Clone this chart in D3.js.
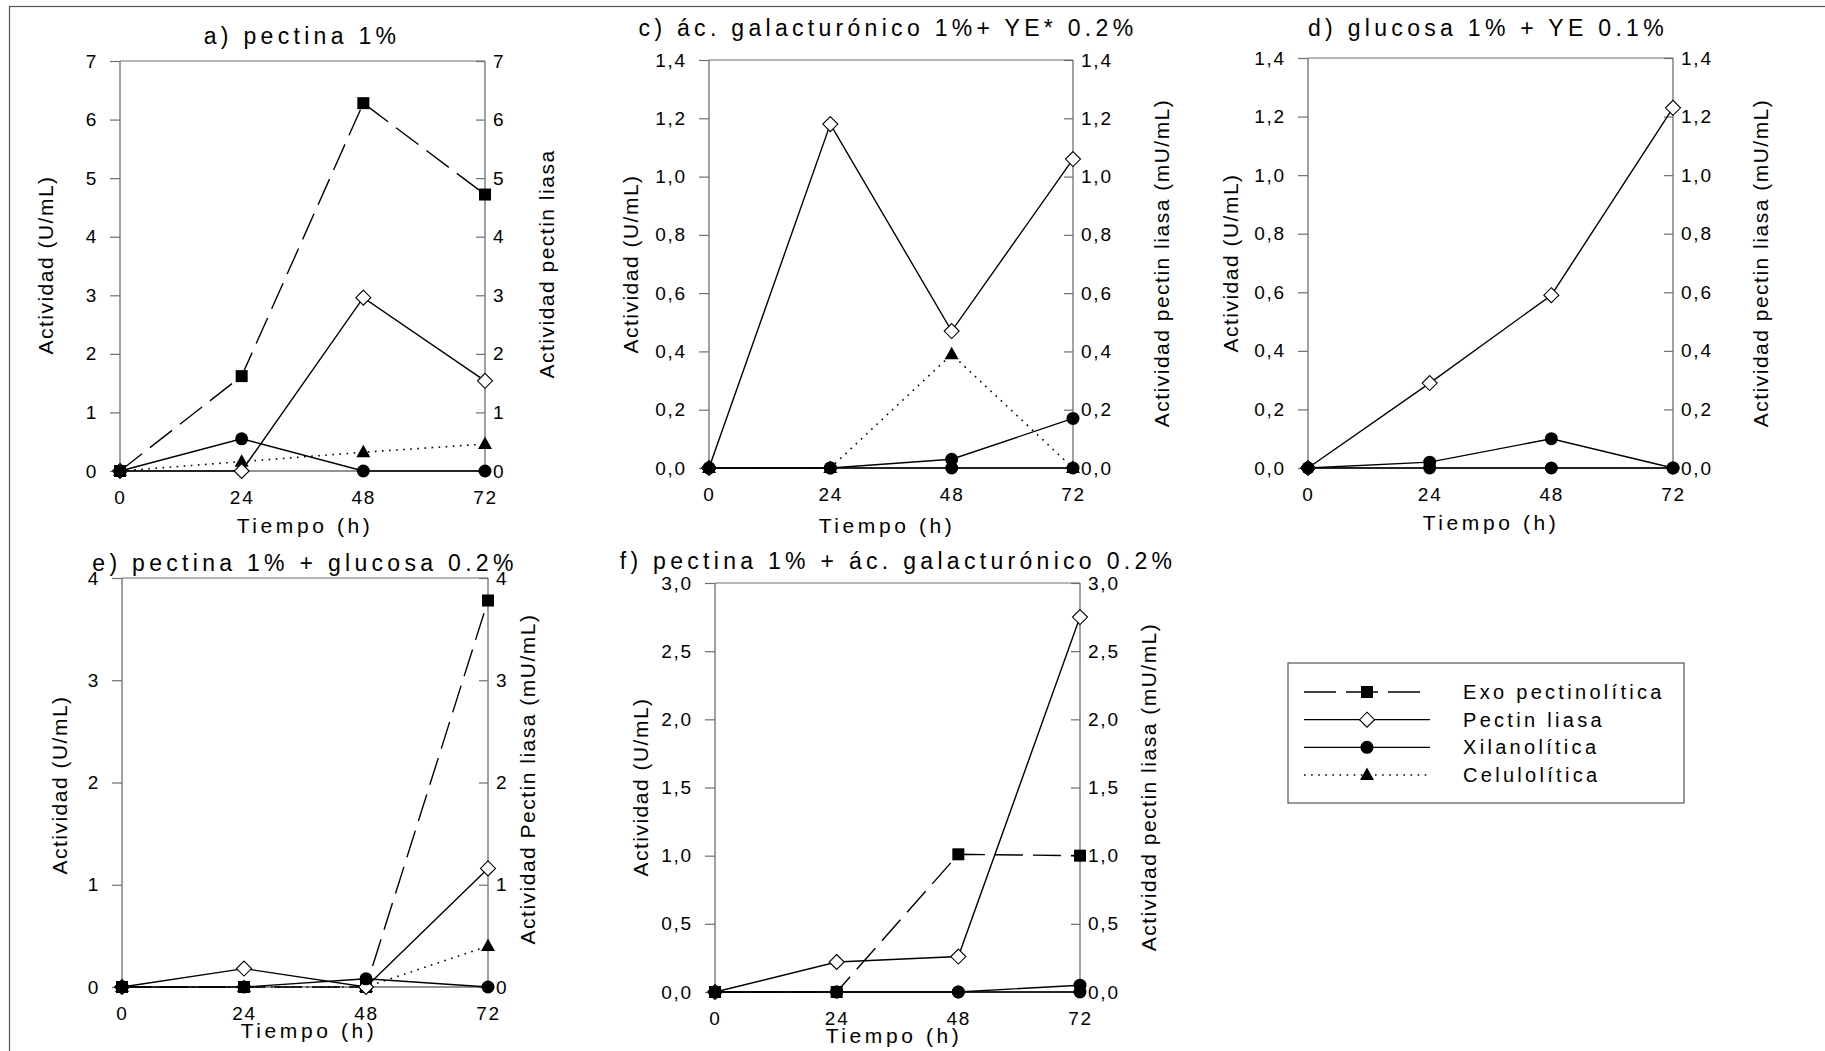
<!DOCTYPE html>
<html>
<head>
<meta charset="utf-8">
<script src="https://cdn.jsdelivr.net/npm/d3@7"></script>
<style>
  html, body { margin: 0; padding: 0; background: #fff; }
  svg { display: block; font-family: "Liberation Sans", Arial, sans-serif; }
</style>
</head>
<body>
<svg id="chart" width="1825" height="1051"></svg>
<script>
// Sampling times (h)
const hours = [0, 24, 48, 72];
const seriesNames = ["Exo pectinolítica", "Pectin liasa", "Xilanolítica", "Celulolítica"];

// a) pectina 1%
const aExo   = [0, 1.62, 6.28, 4.72];
const aLiasa = [0, 0, 2.96, 1.54];
const aXilan = [0, 0.55, 0, 0];
const aCelul = [0, 0.16, 0.32, 0.46];

// c) ác. galacturónico 1% + YE* 0.2%
const cLiasa = [0, 1.18, 0.47, 1.06];
const cXilan = [0, 0, 0.03, 0.17];
const cCelul = [0, 0, 0.39, 0];
const cCero  = [0, 0, 0, 0];

// d) glucosa 1% + YE 0.1%
const dLiasa = [0, 0.29, 0.59, 1.23];
const dXilan = [0, 0.02, 0.10, 0];
const dCero  = [0, 0, 0, 0];

// e) pectina 1% + glucosa 0.2%
const eExo   = [0, 0, 0, 3.78];
const eLiasa = [0, 0.18, 0, 1.16];
const eXilan = [0, 0, 0.08, 0];
const eCelul = [0, 0, 0, 0.40];

// f) pectina 1% + ác. galacturónico 0.2%
const fExo   = [0, 0, 1.01, 1.0];
const fLiasa = [0, 0.22, 0.26, 2.75];
const fXilan = [0, 0, 0, 0.05];
const fCero  = [0, 0, 0, 0];

// Y tick values per panel
const ticksA = [0, 1, 2, 3, 4, 5, 6, 7];
const ticksC = [0, 0.2, 0.4, 0.6, 0.8, 1.0, 1.2, 1.4];
const ticksE = [0, 1, 2, 3, 4];
const ticksF = [0, 0.5, 1.0, 1.5, 2.0, 2.5, 3.0];

const STYLE = {
  exo:   { marker: "square",   dash: "28,10" },
  liasa: { marker: "diamond",  dash: null },
  xilan: { marker: "circle",   dash: null },
  celul: { marker: "triangle", dash: "1.6,5.5" },
  cero:  { marker: "circle",   dash: null }
};

const fmtInt = d3.format("d");
const fmtComma = d => d3.format(".1f")(d).replace(".", ",");

const panels = [
  { title: "a) pectina 1%", x0: 120, x1: 485, yTop: 61, yBot: 471, ticks: ticksA, fmt: fmtInt,
    titleXY: [302, 44], leftTitle: "Actividad (U/mL)", leftXY: [45, 265],
    rightTitle: "Actividad pectin liasa", rightXY: [546, 264], xTitleXY: [305, 533],
    series: [["celul", aCelul], ["exo", aExo], ["liasa", aLiasa], ["xilan", aXilan]] },
  { title: "c) ác. galacturónico 1%+ YE* 0.2%", x0: 709, x1: 1073, yTop: 60, yBot: 468, ticks: ticksC, fmt: fmtComma,
    titleXY: [888, 36], leftTitle: "Actividad (U/mL)", leftXY: [630, 264],
    rightTitle: "Actividad pectin liasa (mU/mL)", rightXY: [1161, 263], xTitleXY: [887, 533],
    series: [["celul", cCelul], ["cero", cCero], ["liasa", cLiasa], ["xilan", cXilan]] },
  { title: "d) glucosa 1% + YE 0.1%", x0: 1308, x1: 1673, yTop: 58, yBot: 468, ticks: ticksC, fmt: fmtComma,
    titleXY: [1488, 36], leftTitle: "Actividad (U/mL)", leftXY: [1230, 263],
    rightTitle: "Actividad pectin liasa (mU/mL)", rightXY: [1760, 263], xTitleXY: [1491, 530],
    series: [["cero", dCero], ["liasa", dLiasa], ["xilan", dXilan]] },
  { title: "e) pectina 1% + glucosa 0.2%", x0: 122, x1: 488, yTop: 578, yBot: 987, ticks: ticksE, fmt: fmtInt,
    titleXY: [305, 571], leftTitle: "Actividad (U/mL)", leftXY: [59, 785],
    rightTitle: "Actividad Pectin liasa (mU/mL)", rightXY: [527, 779], xTitleXY: [309, 1038],
    series: [["celul", eCelul], ["exo", eExo], ["liasa", eLiasa], ["xilan", eXilan]] },
  { title: "f) pectina 1% + ác. galacturónico 0.2%", x0: 715, x1: 1080, yTop: 583, yBot: 992, ticks: ticksF, fmt: fmtComma,
    titleXY: [898, 569], leftTitle: "Actividad (U/mL)", leftXY: [640, 787],
    rightTitle: "Actividad pectin liasa (mU/mL)", rightXY: [1148, 787], xTitleXY: [894, 1043],
    series: [["cero", fCero], ["exo", fExo], ["liasa", fLiasa], ["xilan", fXilan]] }
];

const svg = d3.select("#chart");
const AXIS_COL = "#6f6f6f";

// outer figure frame
svg.append("rect").attr("x", 9.5).attr("y", 6.5).attr("width", 1840).attr("height", 1060)
  .attr("fill", "none").attr("stroke", "#555").attr("stroke-width", 1.2);

function drawMarker(g, type, x, y) {
  if (type === "square") {
    g.append("rect").attr("x", x - 6).attr("y", y - 6).attr("width", 12).attr("height", 12).attr("fill", "#000");
  } else if (type === "diamond") {
    g.append("path").attr("d", `M${x},${y - 7.5}L${x + 7.5},${y}L${x},${y + 7.5}L${x - 7.5},${y}Z`)
      .attr("fill", "#fff").attr("stroke", "#000").attr("stroke-width", 1.1);
  } else if (type === "circle") {
    g.append("circle").attr("cx", x).attr("cy", y).attr("r", 6.5).attr("fill", "#000");
  } else if (type === "triangle") {
    g.append("path").attr("d", `M${x},${y - 7.5}L${x + 7},${y + 5}L${x - 7},${y + 5}Z`).attr("fill", "#000");
  }
}

panels.forEach(p => {
  const g = svg.append("g");
  const x = d3.scaleLinear().domain([0, 72]).range([p.x0, p.x1]);
  const yMax = p.ticks[p.ticks.length - 1];
  const y = d3.scaleLinear().domain([0, yMax]).range([p.yBot, p.yTop]);

  // left axis: outward ticks
  const left = g.append("g").attr("transform", `translate(${p.x0},0)`)
    .call(d3.axisLeft(y).tickValues(p.ticks).tickFormat(p.fmt).tickSize(10).tickPadding(12));
  // right axis: ticks pointing into the plot
  const right = g.append("g").attr("transform", `translate(${p.x1},0)`)
    .call(d3.axisRight(y).tickValues(p.ticks).tickFormat(p.fmt).tickSizeInner(-9).tickSizeOuter(0).tickPadding(8));
  // bottom axis: labels only
  const bottom = g.append("g").attr("transform", `translate(0,${p.yBot})`)
    .call(d3.axisBottom(x).tickValues(hours).tickFormat(fmtInt).tickSize(0).tickPadding(20));

  [left, right, bottom].forEach(ax => {
    ax.select(".domain").attr("stroke", AXIS_COL).attr("stroke-width", 1.3);
    ax.selectAll(".tick line").attr("stroke", AXIS_COL).attr("stroke-width", 1.2);
    ax.selectAll("text").attr("font-size", 19).attr("letter-spacing", 1.8)
      .attr("fill", "#000").attr("font-family", "Liberation Sans, Arial, sans-serif");
  });
  left.select(".domain").attr("d", `M0,${p.yBot}V${p.yTop}`);
  right.select(".domain").attr("d", `M0,${p.yBot}V${p.yTop}`);
  bottom.select(".domain").attr("d", `M${p.x0},0H${p.x1}`);
  // top frame
  g.append("line").attr("x1", p.x0).attr("x2", p.x1).attr("y1", p.yTop).attr("y2", p.yTop)
    .attr("stroke", AXIS_COL).attr("stroke-width", 1.2);

  // series lines then markers
  const line = d3.line().x((d, i) => x(hours[i])).y(d => y(d));
  p.series.forEach(([key, vals]) => {
    const st = STYLE[key];
    g.append("path").attr("d", line(vals)).attr("fill", "none").attr("stroke", "#000")
      .attr("stroke-width", key === "celul" ? 1.6 : 1.4)
      .attr("stroke-dasharray", st.dash);
  });
  p.series.forEach(([key, vals]) => {
    vals.forEach((v, i) => drawMarker(g, STYLE[key].marker, x(hours[i]), y(v)));
  });

  // titles
  g.append("text").attr("x", p.titleXY[0]).attr("y", p.titleXY[1]).attr("text-anchor", "middle")
    .attr("font-size", 23).attr("letter-spacing", 4.3).text(p.title);
  g.append("text").attr("transform", `translate(${p.leftXY[0]},${p.leftXY[1]}) rotate(-90)`)
    .attr("text-anchor", "middle").attr("dominant-baseline", "central")
    .attr("font-size", 21).attr("letter-spacing", 1.5).text(p.leftTitle);
  g.append("text").attr("transform", `translate(${p.rightXY[0]},${p.rightXY[1]}) rotate(-90)`)
    .attr("text-anchor", "middle").attr("dominant-baseline", "central")
    .attr("font-size", 21).attr("letter-spacing", 1.5).text(p.rightTitle);
  g.append("text").attr("x", p.xTitleXY[0]).attr("y", p.xTitleXY[1]).attr("text-anchor", "middle")
    .attr("font-size", 21).attr("letter-spacing", 3.6).text("Tiempo (h)");
});

// legend
const leg = svg.append("g");
leg.append("rect").attr("x", 1288).attr("y", 663).attr("width", 396).attr("height", 140)
  .attr("fill", "#fff").attr("stroke", "#555").attr("stroke-width", 1.2);
const legKeys = ["exo", "liasa", "xilan", "celul"];
const legY = d3.scalePoint().domain(legKeys).range([692, 775]);
legKeys.forEach((k, i) => {
  const yy = legY(k);
  leg.append("line").attr("x1", 1304).attr("x2", 1430).attr("y1", yy).attr("y2", yy)
    .attr("stroke", "#000").attr("stroke-width", k === "celul" ? 1.6 : 1.4)
    .attr("stroke-dasharray", k === "exo" ? "32,10" : STYLE[k].dash);
  drawMarker(leg, STYLE[k].marker, 1367, yy);
  leg.append("text").attr("x", 1463).attr("y", yy + 7).attr("font-size", 20)
    .attr("letter-spacing", 3.3).text(seriesNames[i]);
});
</script>
</body>
</html>
